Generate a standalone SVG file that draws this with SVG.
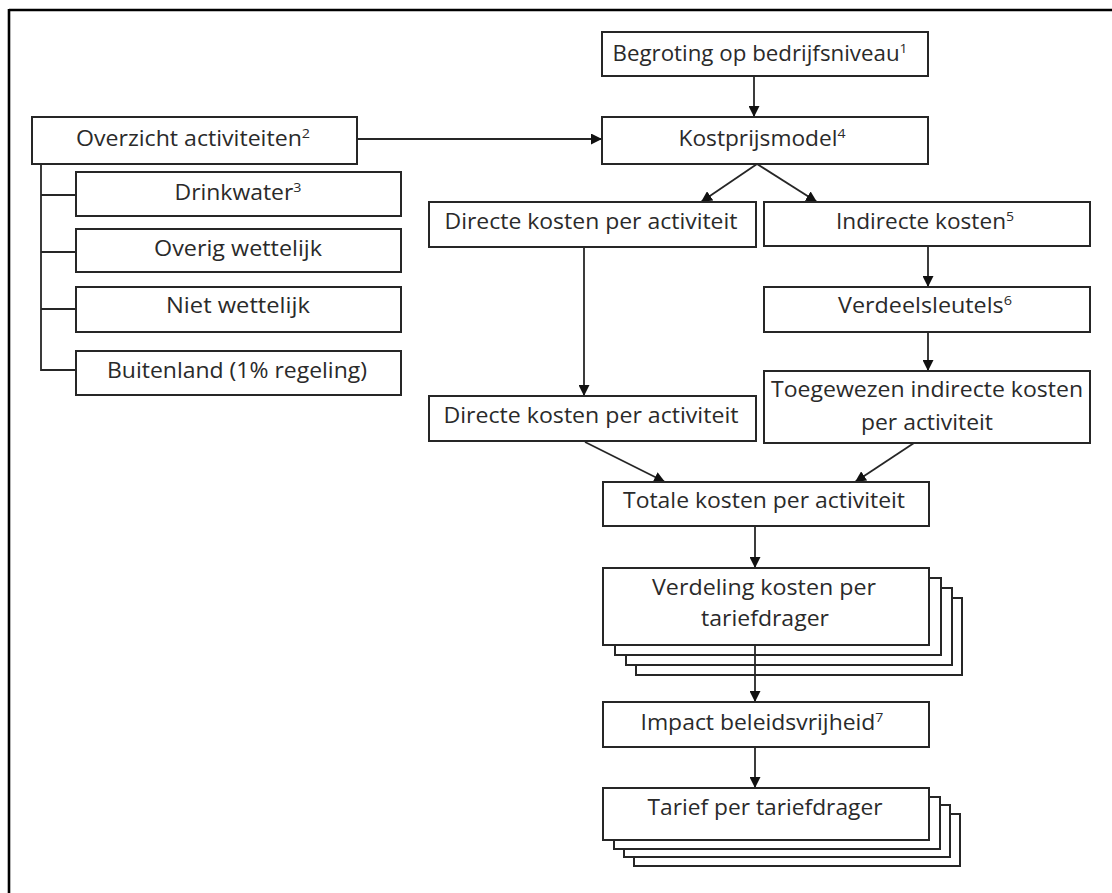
<svg xmlns="http://www.w3.org/2000/svg" width="1112" height="893" viewBox="0 0 1112 893">
<defs>
<marker id="ah" viewBox="0 0 10 10" refX="10" refY="5" markerWidth="11" markerHeight="11" markerUnits="userSpaceOnUse" orient="auto">
<path d="M0,0 L10,5 L0,10 Z" fill="#111"/>
</marker>
<style>
.b{fill:#fff;stroke:#262626;stroke-width:2}
.t{font-family:"Open Sans","Liberation Sans",sans-serif;font-size:21px;fill:#2a2a2a;text-anchor:middle}
.s{font-size:13px}
.c{fill:none;stroke:#262626;stroke-width:1.8}
.a{fill:none;stroke:#262626;stroke-width:1.8;marker-end:url(#ah)}
</style>
</defs>
<rect width="1112" height="893" fill="#fff"/>
<g id="frame">
<line x1="9" y1="10" x2="1112" y2="10" stroke="#000" stroke-width="2.6"/>
<line x1="9" y1="9" x2="9" y2="893" stroke="#000" stroke-width="2.6"/>
</g>
<g id="connectors">
<line class="a" x1="357" y1="139" x2="602" y2="139"/>
<line class="a" x1="754" y1="76" x2="754" y2="117"/>
<line class="a" x1="757" y1="164" x2="701" y2="202"/>
<line class="a" x1="757" y1="164" x2="817" y2="202"/>
<line class="a" x1="584" y1="247" x2="584" y2="396"/>
<line class="a" x1="928" y1="246" x2="928" y2="287"/>
<line class="a" x1="928" y1="332" x2="928" y2="371"/>
<line class="a" x1="585" y1="442" x2="665" y2="482"/>
<line class="a" x1="914" y1="443" x2="855" y2="482"/>
<line class="a" x1="755" y1="526" x2="755" y2="568"/>
<line class="a" x1="755" y1="747" x2="755" y2="788"/>
<path class="c" d="M41,164 V370 H76 M41,195 H76 M41,252 H76 M41,309 H76"/>
</g>
<g id="begroting">
<rect class="b" x="602" y="32" width="326" height="44"/>
<text class="t" x="760" y="61" textLength="295" lengthAdjust="spacingAndGlyphs">Begroting op bedrijfsniveau<tspan class="s" dy="-8">1</tspan></text>
</g>
<g id="kostprijsmodel">
<rect class="b" x="602" y="117" width="326" height="47"/>
<text class="t" x="762" y="146" textLength="167" lengthAdjust="spacingAndGlyphs">Kostprijsmodel<tspan class="s" dy="-8">4</tspan></text>
</g>
<g id="overzicht">
<rect class="b" x="32" y="117" width="325" height="47"/>
<text class="t" x="193" y="146" textLength="234" lengthAdjust="spacingAndGlyphs">Overzicht activiteiten<tspan class="s" dy="-8">2</tspan></text>
</g>
<g id="drinkwater">
<rect class="b" x="76" y="172" width="325" height="44"/>
<text class="t" x="238" y="200" textLength="127" lengthAdjust="spacingAndGlyphs">Drinkwater<tspan class="s" dy="-8">3</tspan></text>
</g>
<g id="overig">
<rect class="b" x="76" y="229" width="325" height="43"/>
<text class="t" x="238" y="256" textLength="168" lengthAdjust="spacingAndGlyphs">Overig wettelijk</text>
</g>
<g id="niet">
<rect class="b" x="76" y="287" width="325" height="45"/>
<text class="t" x="238" y="313" textLength="144" lengthAdjust="spacingAndGlyphs">Niet wettelijk</text>
</g>
<g id="buitenland">
<rect class="b" x="76" y="351" width="325" height="44"/>
<text class="t" x="237" y="378" textLength="260" lengthAdjust="spacingAndGlyphs">Buitenland (1% regeling)</text>
</g>
<g id="directe1">
<rect class="b" x="429" y="202" width="327" height="45"/>
<text class="t" x="591" y="229" textLength="293" lengthAdjust="spacingAndGlyphs">Directe kosten per activiteit</text>
</g>
<g id="indirecte">
<rect class="b" x="764" y="202" width="326" height="44"/>
<text class="t" x="925" y="229" textLength="178" lengthAdjust="spacingAndGlyphs">Indirecte kosten<tspan class="s" dy="-8">5</tspan></text>
</g>
<g id="verdeelsleutels">
<rect class="b" x="764" y="287" width="326" height="45"/>
<text class="t" x="925" y="313" textLength="174" lengthAdjust="spacingAndGlyphs">Verdeelsleutels<tspan class="s" dy="-8">6</tspan></text>
</g>
<g id="toegewezen">
<rect class="b" x="764" y="371" width="326" height="72"/>
<text class="t" x="927" y="397" textLength="312" lengthAdjust="spacingAndGlyphs">Toegewezen indirecte kosten</text>
<text class="t" x="927" y="430" textLength="132" lengthAdjust="spacingAndGlyphs">per activiteit</text>
</g>
<g id="directe2">
<rect class="b" x="429" y="396" width="327" height="45"/>
<text class="t" x="591" y="423" textLength="295" lengthAdjust="spacingAndGlyphs">Directe kosten per activiteit</text>
</g>
<g id="totale">
<rect class="b" x="603" y="482" width="326" height="44"/>
<text class="t" x="764" y="508" textLength="282" lengthAdjust="spacingAndGlyphs">Totale kosten per activiteit</text>
</g>
<g id="verdeling">
<rect class="b" x="636" y="598" width="326" height="77"/>
<rect class="b" x="626" y="588" width="326" height="77"/>
<rect class="b" x="615" y="578" width="326" height="77"/>
<rect class="b" x="603" y="568" width="326" height="77"/>
<text class="t" x="764" y="595" textLength="224" lengthAdjust="spacingAndGlyphs">Verdeling kosten per</text>
<text class="t" x="765" y="626" textLength="128" lengthAdjust="spacingAndGlyphs">tariefdrager</text>
</g>
<line class="a" x1="755" y1="645" x2="755" y2="702"/>
<g id="impact">
<rect class="b" x="603" y="702" width="326" height="45"/>
<text class="t" x="762" y="730" textLength="243" lengthAdjust="spacingAndGlyphs">Impact beleidsvrijheid<tspan class="s" dy="-8">7</tspan></text>
</g>
<g id="tarief">
<rect class="b" x="634" y="814" width="326" height="52"/>
<rect class="b" x="624" y="805" width="326" height="52"/>
<rect class="b" x="614" y="797" width="326" height="52"/>
<rect class="b" x="603" y="788" width="326" height="52"/>
<text class="t" x="765" y="815" textLength="235" lengthAdjust="spacingAndGlyphs">Tarief per tariefdrager</text>
</g>
</svg>
